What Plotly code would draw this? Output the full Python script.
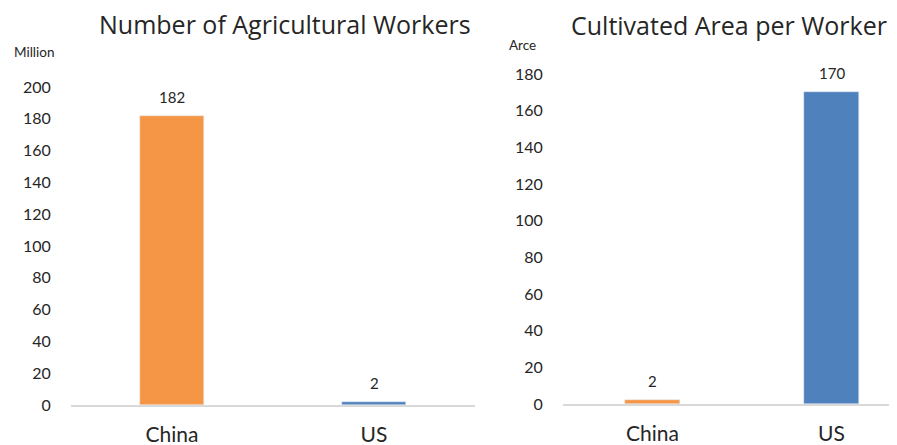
import plotly.graph_objects as go

categories = ["China", "US"]
workers_million = [182, 2]
area_per_worker = [2, 170]
bar_colors = ["#F59646", "#4F81BD"]
left_title = "Number of Agricultural Workers"
right_title = "Cultivated Area per Worker"
left_unit = "Million"
right_unit = "Arce"
left_ticks = list(range(0, 201, 20))
right_ticks = list(range(0, 181, 20))

W, H = 897, 445
OFF = 8  # page body margin offset
FONT = "Lato"
TITLE_FONT = "Open Sans"
TXT = "#262626"

def px(x):
    return (x - OFF) / W

def py(y):
    return (H - (y - OFF)) / H

fig = go.Figure()
fig.add_trace(go.Bar(x=categories, y=workers_million, marker_color=bar_colors,
                     width=0.32, xaxis="x", yaxis="y", showlegend=False))
fig.add_trace(go.Bar(x=categories, y=area_per_worker, marker_color=bar_colors,
                     width=0.31, xaxis="x2", yaxis="y2", showlegend=False))

annotations = []
for c, v in zip(categories, workers_million):
    annotations.append(dict(x=c, y=v, xref="x", yref="y", text=str(v), showarrow=False,
                            yshift=19, font=dict(family=FONT, size=15, color=TXT)))
for c, v in zip(categories, area_per_worker):
    annotations.append(dict(x=c, y=v, xref="x2", yref="y2", text=str(v), showarrow=False,
                            yshift=19, font=dict(family=FONT, size=15, color=TXT)))

annotations += [
    dict(x=px(285), y=py(24), xref="paper", yref="paper", text=left_title, showarrow=False,
         xanchor="center", yanchor="middle", font=dict(family=TITLE_FONT, size=25, color=TXT)),
    dict(x=px(729), y=py(25), xref="paper", yref="paper", text=right_title, showarrow=False,
         xanchor="center", yanchor="middle", font=dict(family=TITLE_FONT, size=25, color=TXT)),
    dict(x=px(12), y=py(52), xref="paper", yref="paper", text=left_unit, showarrow=False,
         xanchor="left", yanchor="middle", font=dict(family=FONT, size=13.5, color=TXT)),
    dict(x=px(507), y=py(45), xref="paper", yref="paper", text=right_unit, showarrow=False,
         xanchor="left", yanchor="middle", font=dict(family=FONT, size=13.5, color=TXT)),
]

xaxis_common = dict(showgrid=False, zeroline=False, showline=True, linecolor="#D9D9D9",
                    linewidth=2, ticks="outside", ticklen=10, tickcolor="rgba(0,0,0,0)",
                    tickfont=dict(family=FONT, size=21, color=TXT), fixedrange=True,
                    automargin=False)
yaxis_common = dict(showgrid=False, zeroline=False, showline=False, ticks="outside",
                    ticklen=16, tickcolor="rgba(0,0,0,0)",
                    tickfont=dict(family=FONT, size=16, color=TXT), fixedrange=True,
                    automargin=False)

fig.update_layout(
    width=W, height=H,
    margin=dict(l=0, r=0, t=0, b=0),
    paper_bgcolor="white", plot_bgcolor="white",
    xaxis=dict(domain=[px(71), px(475)], range=[-0.5, 1.5], anchor="y", **xaxis_common),
    yaxis=dict(domain=[py(405), py(87)], range=[0, 200], tickvals=left_ticks,
               anchor="x", **yaxis_common),
    xaxis2=dict(domain=[px(563), 1.0], range=[-0.5, -0.5 + (W + OFF - 563) / 179],
                anchor="y2", **xaxis_common),
    yaxis2=dict(domain=[py(404), py(74)], range=[0, 180], tickvals=right_ticks,
                anchor="x2", **yaxis_common),
    annotations=annotations,
    bargap=0,
)

fig.write_html("out.html")
